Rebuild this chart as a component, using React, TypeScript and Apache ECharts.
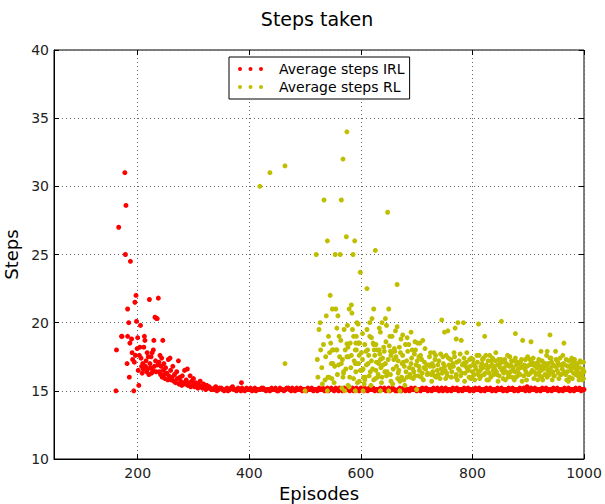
import React, { useEffect, useRef } from "react";
import * as echarts from "echarts";

const titleText = "Steps taken";
const xName = "Episodes";
const yName = "Steps";
const seriesNames = ["Average steps IRL", "Average steps RL"];
const xTicks = [200, 400, 600, 800, 1000];

// IRL: early noisy phase
const irlEarly: [number, number][] = [
  [161, 15.0], [162, 18.0], [166, 27.0], [171, 19.0], [172, 19.0], [177, 31.0], [178, 25.0], [179, 28.6],
  [181, 17.0], [182, 21.0], [182, 19.0], [184, 20.0], [185, 16.0], [186, 18.5], [187, 24.5], [189, 18.8],
  [190, 17.8], [191, 17.3], [193, 15.0], [194, 17.1], [195, 21.5], [196, 17.6], [197, 22.0], [198, 20.1],
  [199, 18.1], [200, 18.9], [201, 16.5], [202, 15.4], [203, 17.6], [204, 18.2], [205, 19.8], [206, 17.4],
  [207, 16.8], [208, 16.3], [209, 17.0], [210, 16.6], [211, 18.2], [212, 19.0], [213, 18.7], [214, 16.8],
  [215, 17.2], [216, 16.4], [217, 17.8], [218, 16.6], [219, 17.5], [220, 16.2], [221, 21.7], [222, 17.0],
  [223, 16.7], [224, 17.5], [225, 16.3], [226, 17.8], [227, 16.5], [228, 18.0], [229, 18.7], [230, 16.8],
  [231, 20.4], [232, 17.2], [233, 16.4], [234, 20.3], [235, 20.3], [236, 16.9], [237, 21.8], [238, 17.1],
  [239, 16.4], [240, 17.6], [241, 16.2], [242, 16.8], [243, 17.4], [244, 16.0], [245, 18.7], [246, 16.5],
  [247, 17.0], [248, 16.2], [249, 15.9], [250, 16.7], [252, 16.3], [254, 15.8], [255, 17.3], [256, 16.1],
  [258, 17.4], [259, 16.5], [260, 15.8], [262, 16.0], [263, 16.8], [265, 15.7], [266, 16.2], [268, 15.6],
  [270, 16.4], [271, 15.9], [273, 17.2], [274, 15.5], [276, 16.0], [277, 15.7], [279, 15.4], [280, 16.1],
  [282, 15.6], [284, 16.5], [285, 15.5], [287, 15.8], [289, 16.6], [290, 15.4], [292, 15.6], [294, 16.1],
  [295, 15.3], [297, 15.7], [299, 15.4], [300, 15.9], [302, 15.3], [304, 15.6], [306, 15.5], [308, 15.2],
  [310, 15.4], [312, 15.7], [314, 15.3], [316, 15.2], [318, 15.5], [320, 15.3], [322, 15.1], [324, 15.4],
  [326, 15.2], [328, 15.3],
];

// IRL: converged phase
const irlTail: [number, number][] = [
  [330, 15.2], [335, 15.1], [340, 15.3], [345, 15.1], [350, 15.2], [355, 15.0], [360, 15.2], [365, 15.1],
  [370, 15.3], [375, 15.1], [380, 15.2], [385, 15.0], [386, 15.6], [390, 15.1], [395, 15.2], [400, 15.1],
  [405, 15.0], [410, 15.2], [415, 15.1], [420, 15.1], [425, 15.2], [430, 15.0], [435, 15.1], [440, 15.2],
  [445, 15.1], [450, 15.0], [455, 15.2], [460, 15.1], [465, 15.1], [470, 15.2], [475, 15.0], [480, 15.1],
  [485, 15.2], [490, 15.1], [495, 15.0], [500, 15.1], [505, 15.2], [510, 15.1], [515, 15.0], [520, 15.1],
  [525, 15.2], [530, 15.1], [535, 15.0], [540, 15.2], [545, 15.1], [550, 15.1], [555, 15.2], [560, 15.0],
  [565, 15.1], [570, 15.2], [575, 15.1], [580, 15.0], [585, 15.2], [590, 15.1], [595, 15.1], [600, 15.2],
  [605, 15.0], [610, 15.1], [615, 15.2], [620, 15.1], [625, 15.0], [630, 15.1], [635, 15.2], [640, 15.1],
  [645, 15.0], [650, 15.2], [655, 15.1], [660, 15.1], [665, 15.0], [670, 15.2], [675, 15.1], [680, 15.0],
  [685, 15.1], [690, 15.2], [695, 15.1], [700, 15.0], [705, 15.1], [710, 15.2], [715, 15.1], [720, 15.0],
  [725, 15.1], [730, 15.2], [735, 15.1], [740, 15.0], [745, 15.2], [750, 15.1], [755, 15.0], [760, 15.1],
  [765, 15.2], [770, 15.1], [775, 15.0], [780, 15.1], [785, 15.2], [790, 15.1], [795, 15.0], [800, 15.1],
  [805, 15.2], [810, 15.1], [815, 15.0], [820, 15.1], [825, 15.2], [830, 15.1], [835, 15.0], [840, 15.1],
  [845, 15.2], [850, 15.1], [855, 15.0], [860, 15.1], [865, 15.2], [870, 15.1], [875, 15.0], [880, 15.1],
  [885, 15.2], [890, 15.1], [895, 15.0], [898, 15.3], [900, 15.1], [905, 15.2], [910, 15.1], [915, 15.0],
  [920, 15.1], [925, 15.2], [930, 15.1], [935, 15.0], [940, 15.1], [945, 15.2], [950, 15.1], [955, 15.0],
  [960, 15.1], [965, 15.2], [970, 15.1], [975, 15.0], [980, 15.1], [985, 15.2], [990, 15.1], [995, 15.0],
  [1000, 15.1],
];

// IRL: converged phase, interleaved episodes
const irlTail2: [number, number][] = [
  [332, 15.1], [337, 15.2], [342, 15.0], [347, 15.2], [352, 15.1], [357, 15.1], [362, 15.0], [367, 15.2],
  [372, 15.1], [377, 15.0], [382, 15.1], [387, 15.2], [392, 15.0], [397, 15.1], [402, 15.2], [407, 15.1],
  [412, 15.0], [417, 15.1], [422, 15.2], [427, 15.1], [432, 15.1], [437, 15.0], [442, 15.1], [447, 15.2],
  [452, 15.0], [457, 15.1], [462, 15.0], [467, 15.2], [472, 15.1], [477, 15.2], [482, 15.0], [487, 15.1],
  [492, 15.2], [497, 15.1], [502, 15.0], [507, 15.1], [512, 15.2], [517, 15.1], [522, 15.0], [527, 15.1],
  [532, 15.2], [537, 15.1], [542, 15.0], [547, 15.2], [552, 15.0], [557, 15.1], [562, 15.2], [567, 15.0],
  [572, 15.1], [577, 15.2], [582, 15.1], [587, 15.0], [592, 15.2], [597, 15.0], [602, 15.1], [607, 15.2],
  [612, 15.0], [617, 15.1], [622, 15.2], [627, 15.1], [632, 15.0], [637, 15.1], [642, 15.2], [647, 15.1],
  [652, 15.0], [657, 15.2], [662, 15.0], [667, 15.1], [672, 15.0], [677, 15.2], [682, 15.1], [687, 15.0],
  [692, 15.1], [697, 15.2], [702, 15.1], [707, 15.0], [712, 15.1], [717, 15.2], [722, 15.1], [727, 15.0],
  [732, 15.1], [737, 15.2], [742, 15.1], [747, 15.0], [752, 15.2], [757, 15.1], [762, 15.0], [767, 15.1],
  [772, 15.2], [777, 15.1], [782, 15.0], [787, 15.1], [792, 15.2], [797, 15.1], [802, 15.0], [807, 15.1],
  [812, 15.2], [817, 15.1], [822, 15.0], [827, 15.1], [832, 15.2], [837, 15.1], [842, 15.0], [847, 15.1],
  [852, 15.2], [857, 15.1], [862, 15.0], [867, 15.1], [872, 15.2], [877, 15.1], [882, 15.0], [887, 15.1],
  [892, 15.2], [897, 15.1], [902, 15.0], [907, 15.1], [912, 15.2], [917, 15.1], [922, 15.0], [927, 15.1],
  [932, 15.2], [937, 15.1], [942, 15.0], [947, 15.1], [952, 15.2], [957, 15.1], [962, 15.0], [967, 15.1],
  [972, 15.2], [977, 15.1], [982, 15.0], [987, 15.1], [992, 15.2], [997, 15.1],
];

// RL: early sparse and high-variance phase
const rlEarly: [number, number][] = [
  [419, 30.0], [437, 31.0], [464, 31.5], [464, 17.0], [500, 15.0],
  [520, 25.0], [522, 17.3], [523, 16.0], [525, 19.5], [527, 20.0], [528, 18.0], [530, 16.7], [531, 15.5],
  [533, 18.4], [534, 29.0], [536, 15.8], [537, 17.5], [538, 20.5], [540, 26.0], [540, 15.0], [541, 16.0],
  [542, 19.0], [543, 16.0], [544, 17.8], [545, 22.0], [546, 18.5], [547, 17.0], [548, 15.9], [549, 21.0],
  [549, 17.0], [549, 18.0], [550, 17.0], [551, 18.0], [552, 15.6], [553, 16.8], [554, 25.0], [555, 21.0],
  [556, 18.0], [557, 18.0], [557, 19.6], [558, 16.2], [559, 20.5], [560, 16.9], [561, 19.0], [562, 17.5],
  [563, 25.0], [564, 18.7], [565, 29.0], [565, 17.0], [566, 15.2], [567, 17.3], [568, 32.0], [568, 16.0],
  [569, 16.4], [569, 16.3], [570, 19.5], [571, 15.0], [572, 18.0], [573, 16.6], [574, 26.3], [575, 34.0],
  [575, 18.45], [575, 17.5], [576, 19.8], [577, 15.4], [577, 18.2], [578, 17.5], [579, 21.0], [579, 15.3],
  [580, 16.0], [581, 18.5], [582, 16.7], [583, 21.3], [583, 17.6], [584, 20.7], [585, 19.5], [586, 25.0],
  [587, 19.0], [587, 15.9], [588, 17.2], [589, 26.0], [590, 18.0], [590, 17.0], [590, 15.0], [591, 18.5],
  [591, 16.4], [592, 19.0], [592, 18.0], [592, 17.0], [593, 20.0], [594, 15.6], [595, 18.5], [595, 19.9],
  [596, 18.5], [596, 17.0], [597, 15.7], [597, 17.6], [598, 18.5], [599, 23.7], [599, 16.5],
];

// RL: settling phase
const rlLate: [number, number][] = [
  [602, 16.5], [603, 17.3], [603, 19.2], [604, 15.0], [605, 16.0], [606, 15.5], [607, 15.8], [608, 16.0],
  [609, 17.9], [611, 22.5], [611, 19.5], [612, 18.0], [613, 17.0], [616, 19.0], [616, 20.0], [617, 16.4],
  [618, 15.4], [619, 18.9], [620, 20.3], [622, 18.5], [623, 21.0], [623, 18.4], [623, 15.8], [625, 17.6],
  [626, 25.3], [626, 15.9], [627, 18.4], [627, 16.5], [629, 18.0], [631, 16.2], [632, 17.0], [633, 18.0],
  [633, 19.6], [635, 19.3], [635, 17.3], [635, 15.0], [637, 15.6], [638, 20.0], [638, 16.0], [640, 16.9],
  [641, 18.2], [642, 17.9], [644, 20.3], [644, 17.0], [646, 16.1], [646, 19.8], [647, 16.4], [648, 28.1],
  [650, 21.0], [650, 15.0], [651, 18.3], [652, 19.0], [653, 17.9], [654, 17.6], [654, 15.7], [656, 19.0],
  [657, 15.5], [659, 17.3], [661, 17.9], [662, 19.4], [664, 16.8], [665, 22.8], [665, 19.7], [666, 15.9],
  [667, 17.2], [668, 16.5], [670, 15.7], [670, 15.0], [671, 17.8], [672, 18.8], [674, 17.0], [675, 19.1],
  [676, 17.1], [677, 15.8], [679, 15.4], [680, 18.4], [682, 17.2], [683, 16.0], [683, 18.9], [686, 18.4],
  [687, 16.7], [689, 16.0], [690, 19.3], [691, 17.4], [692, 18.0], [694, 15.9], [695, 16.4], [697, 18.6],
  [698, 18.0], [699, 16.9], [700, 15.1], [702, 18.5], [703, 16.1], [704, 16.8], [704, 17.5], [706, 18.5],
  [707, 17.6], [710, 16.3], [711, 18.7], [712, 15.8], [714, 17.1], [716, 16.6], [719, 16.2], [722, 16.9],
  [724, 16.8], [725, 17.8], [727, 15.7], [728, 17.0], [729, 16.4], [731, 17.8], [733, 17.3], [735, 16.0],
  [737, 16.5], [740, 17.2], [742, 15.9], [744, 16.6], [745, 20.2], [747, 17.5], [750, 19.3], [750, 16.8],
  [752, 15.9], [754, 16.3], [756, 19.4], [757, 17.4], [760, 16.7], [762, 16.0], [765, 17.0], [767, 17.8],
  [769, 19.6], [771, 18.8], [771, 16.2], [773, 15.8], [774, 20.0], [776, 17.2], [777, 16.5], [780, 18.7],
  [781, 16.3], [784, 20.0], [784, 17.0], [786, 15.7], [788, 16.8], [790, 17.8], [793, 16.5], [795, 17.3],
  [797, 15.9], [799, 16.0], [801, 17.3], [803, 16.2], [805, 16.8], [808, 17.6], [811, 19.9], [811, 16.4],
  [813, 15.9], [815, 16.8], [817, 17.0], [820, 17.4], [822, 19.0], [823, 16.3], [825, 16.9], [826, 15.8],
  [829, 15.8], [832, 16.8], [834, 17.2], [837, 16.5], [840, 16.6], [842, 17.8], [844, 16.2], [846, 15.7],
  [849, 17.0], [851, 17.3], [852, 20.1], [853, 16.5], [856, 16.3], [859, 15.8], [861, 17.0], [864, 16.0],
  [867, 17.5], [869, 16.9], [872, 16.5], [875, 15.8], [877, 19.2], [877, 17.4], [879, 16.9], [881, 16.1],
  [883, 16.3], [886, 17.1], [889, 15.7], [890, 18.7], [891, 16.8], [894, 16.6], [897, 15.8], [899, 17.5],
  [901, 16.2], [903, 17.3], [905, 18.6], [906, 17.1], [907, 16.5], [910, 15.9], [913, 16.8], [915, 16.9],
  [917, 15.8], [919, 17.3], [921, 16.1], [923, 17.9], [923, 16.5], [926, 15.8], [929, 16.8], [931, 17.0],
  [934, 17.9], [934, 16.0], [937, 16.4], [939, 19.1], [939, 17.4], [941, 17.4], [943, 15.8], [946, 16.1],
  [948, 16.8], [949, 17.9], [950, 17.3], [952, 16.5], [955, 15.9], [958, 16.9], [960, 16.9], [962, 17.6],
  [964, 18.5], [964, 16.4], [967, 16.2], [969, 15.8], [972, 15.7], [975, 16.8], [977, 16.9], [979, 15.9],
  [980, 17.2], [981, 16.3], [984, 17.0], [987, 16.5], [989, 16.1], [991, 15.8], [993, 17.2], [995, 16.0],
  [997, 16.4], [997, 15.8], [999, 17.1], [1000, 16.4],
];

// RL: dense core of the settled band
const rlDense: [number, number][] = [
  [601, 17.8], [604, 16.6], [607, 18.4], [610, 16.9], [614, 17.6], [615, 16.1], [619, 17.2], [621, 16.6],
  [624, 18.0], [628, 17.1], [630, 16.0], [634, 17.7], [636, 16.7], [639, 17.4], [643, 16.4], [645, 18.6],
  [649, 17.3], [653, 16.2], [655, 17.8], [658, 16.6], [660, 18.1], [663, 17.5], [667, 16.3], [669, 18.2],
  [673, 16.0], [675, 17.6], [678, 16.8], [681, 16.4], [684, 17.9], [688, 16.2], [690, 17.0], [693, 16.6],
  [696, 17.7], [697, 16.1], [701, 17.2], [705, 16.5], [708, 16.0], [709, 17.3], [713, 16.7], [715, 18.1],
  [718, 16.9], [720, 16.3], [723, 17.5], [726, 16.2], [730, 16.8], [732, 16.1], [734, 17.6], [738, 16.9],
  [739, 16.2], [743, 17.7], [746, 16.3], [748, 17.0], [751, 16.5], [753, 17.6], [755, 16.1], [758, 16.9],
  [761, 17.3], [763, 16.4], [766, 16.8], [768, 17.5], [770, 16.0], [772, 17.1], [775, 16.6], [778, 17.7],
  [779, 16.1], [782, 16.9], [785, 17.4], [787, 16.3], [789, 17.1], [791, 16.6], [794, 16.0], [796, 16.8],
  [798, 17.4], [800, 16.4], [802, 17.0], [804, 15.8], [806, 16.6], [809, 17.1], [810, 16.2], [812, 17.6],
  [814, 16.5], [816, 16.1], [818, 17.3], [819, 16.7], [821, 16.2], [824, 17.6], [827, 16.6], [828, 17.2],
  [830, 16.3], [831, 17.6], [833, 16.0], [835, 16.9], [836, 17.4], [838, 16.2], [839, 16.8], [841, 17.2],
  [843, 16.4], [845, 16.9], [847, 17.3], [848, 16.1], [850, 16.7], [854, 17.1], [855, 15.9], [857, 16.7],
  [858, 17.3], [860, 16.4], [862, 16.9], [863, 17.6], [865, 16.2], [866, 16.8], [868, 16.4], [870, 17.2],
  [871, 16.0], [873, 16.7], [874, 17.2], [876, 16.4], [878, 16.0], [880, 17.1], [882, 16.6], [884, 17.0],
  [885, 16.2], [887, 16.7], [888, 17.3], [892, 16.1], [893, 16.9], [895, 17.3], [896, 16.4], [898, 16.8],
  [900, 16.2], [902, 16.9], [904, 16.3], [908, 16.9], [909, 17.4], [911, 16.4], [912, 17.0], [914, 16.2],
  [916, 16.7], [918, 17.1], [920, 16.4], [922, 16.8], [924, 16.0], [925, 17.2], [927, 16.6], [928, 17.0],
  [930, 16.2], [932, 16.8], [933, 17.6], [935, 16.5], [936, 17.0], [938, 16.2], [940, 16.7], [942, 17.1],
  [944, 16.4], [945, 16.9], [947, 16.1], [951, 16.8], [953, 17.1], [954, 16.3], [956, 16.9], [957, 17.4],
  [959, 16.2], [961, 16.6], [963, 17.0], [965, 16.3], [966, 16.9], [968, 17.3], [970, 16.4], [971, 16.8],
  [973, 17.2], [974, 16.0], [976, 16.5], [978, 17.4], [982, 16.7], [983, 17.3], [985, 16.2], [986, 16.8],
  [988, 17.0], [990, 16.3], [992, 16.7], [994, 17.1], [996, 16.2], [998, 16.6], [999, 15.9],
];

const irlPoints = [...irlEarly, ...irlTail, ...irlTail2];
const rlPoints = [...rlEarly, ...rlLate, ...rlDense];

const FONT = "DejaVu Sans";
const dotsIcon =
  "path://M0,2a2,2 0 1,0 4,0a2,2 0 1,0 -4,0zM10.5,2a2,2 0 1,0 4,0a2,2 0 1,0 -4,0zM21,2a2,2 0 1,0 4,0a2,2 0 1,0 -4,0z";

export default function App() {
  const ref = useRef<HTMLDivElement>(null);
  useEffect(() => {
    if (!ref.current) return;
    const chart = echarts.init(ref.current, null, { renderer: "svg" });
    const gridLine = { show: true, lineStyle: { color: "#666", type: [1, 3], width: 1 } };
    const tickIn = { show: true, inside: true, length: 5, lineStyle: { color: "#000", width: 1 } };
    chart.setOption({
      animation: false,
      backgroundColor: "#fff",
      textStyle: { fontFamily: FONT },
      title: {
        text: titleText,
        left: 312,
        top: 4,
        textAlign: "center",
        textStyle: { fontFamily: FONT, fontSize: 19, fontWeight: "normal", color: "#000" },
      },
      legend: {
        orient: "vertical",
        left: 229,
        top: 57,
        backgroundColor: "#fff",
        borderColor: "#000",
        borderWidth: 1,
        borderRadius: 0,
        padding: [5, 5, 5, 9],
        itemWidth: 25,
        itemHeight: 4.5,
        itemGap: 4,
        selectedMode: false,
        textStyle: { fontFamily: FONT, fontSize: 14, color: "#000", padding: [0, 0, 0, 11] },
        data: seriesNames.map((n) => ({ name: n, icon: dotsIcon })),
      },
      grid: {
        left: 54,
        right: 21,
        top: 50,
        bottom: 45,
        containLabel: false,
        outerBoundsMode: "none",
        show: true,
        borderColor: "#000",
        borderWidth: 1,
        backgroundColor: "transparent",
      },
      xAxis: [
        {
          type: "value",
          min: 50,
          max: 1000,
          name: xName,
          nameLocation: "middle",
          nameGap: 25,
          nameTextStyle: { fontFamily: FONT, fontSize: 18, color: "#000" },
          axisLine: { show: true, lineStyle: { color: "#000" } },
          axisTick: { ...tickIn, customValues: xTicks },
          axisLabel: {
            customValues: xTicks,
            formatter: (v: number) => String(v),
            fontFamily: FONT,
            fontSize: 14,
            color: "#222",
            margin: 7,
          },
          splitLine: gridLine,
        },
        {
          type: "value",
          min: 50,
          max: 1000,
          position: "top",
          axisLine: { show: false },
          axisTick: { ...tickIn, customValues: xTicks },
          axisLabel: { show: false, customValues: xTicks },
          splitLine: { show: false },
        },
      ],
      yAxis: [
        {
          type: "value",
          min: 10,
          max: 40,
          interval: 5,
          name: yName,
          nameLocation: "middle",
          nameGap: 27,
          nameTextStyle: { fontFamily: FONT, fontSize: 18, color: "#000" },
          axisLine: { show: true, lineStyle: { color: "#000" } },
          axisTick: tickIn,
          axisLabel: { fontFamily: FONT, fontSize: 14, color: "#222", margin: 5 },
          splitLine: gridLine,
        },
        {
          type: "value",
          min: 10,
          max: 40,
          interval: 5,
          position: "right",
          axisLine: { show: false },
          axisTick: tickIn,
          axisLabel: { show: false },
          splitLine: { show: false },
        },
      ],
      series: [
        {
          name: seriesNames[0],
          type: "scatter",
          data: irlPoints,
          symbol: "circle",
          symbolSize: 5,
          clip: true,
          silent: true,
          itemStyle: { color: "#ff0000", opacity: 1 },
          emphasis: { disabled: true },
        },
        {
          name: seriesNames[1],
          type: "scatter",
          data: rlPoints,
          symbol: "circle",
          symbolSize: 5,
          clip: true,
          silent: true,
          itemStyle: { color: "#bfbf00", opacity: 1 },
          emphasis: { disabled: true },
        },
      ],
    });
    return () => chart.dispose();
  }, []);
  return (
    <div
      ref={ref}
      style={{ position: "fixed", left: 0, top: 0, width: 605, height: 504, background: "#fff" }}
    />
  );
}
